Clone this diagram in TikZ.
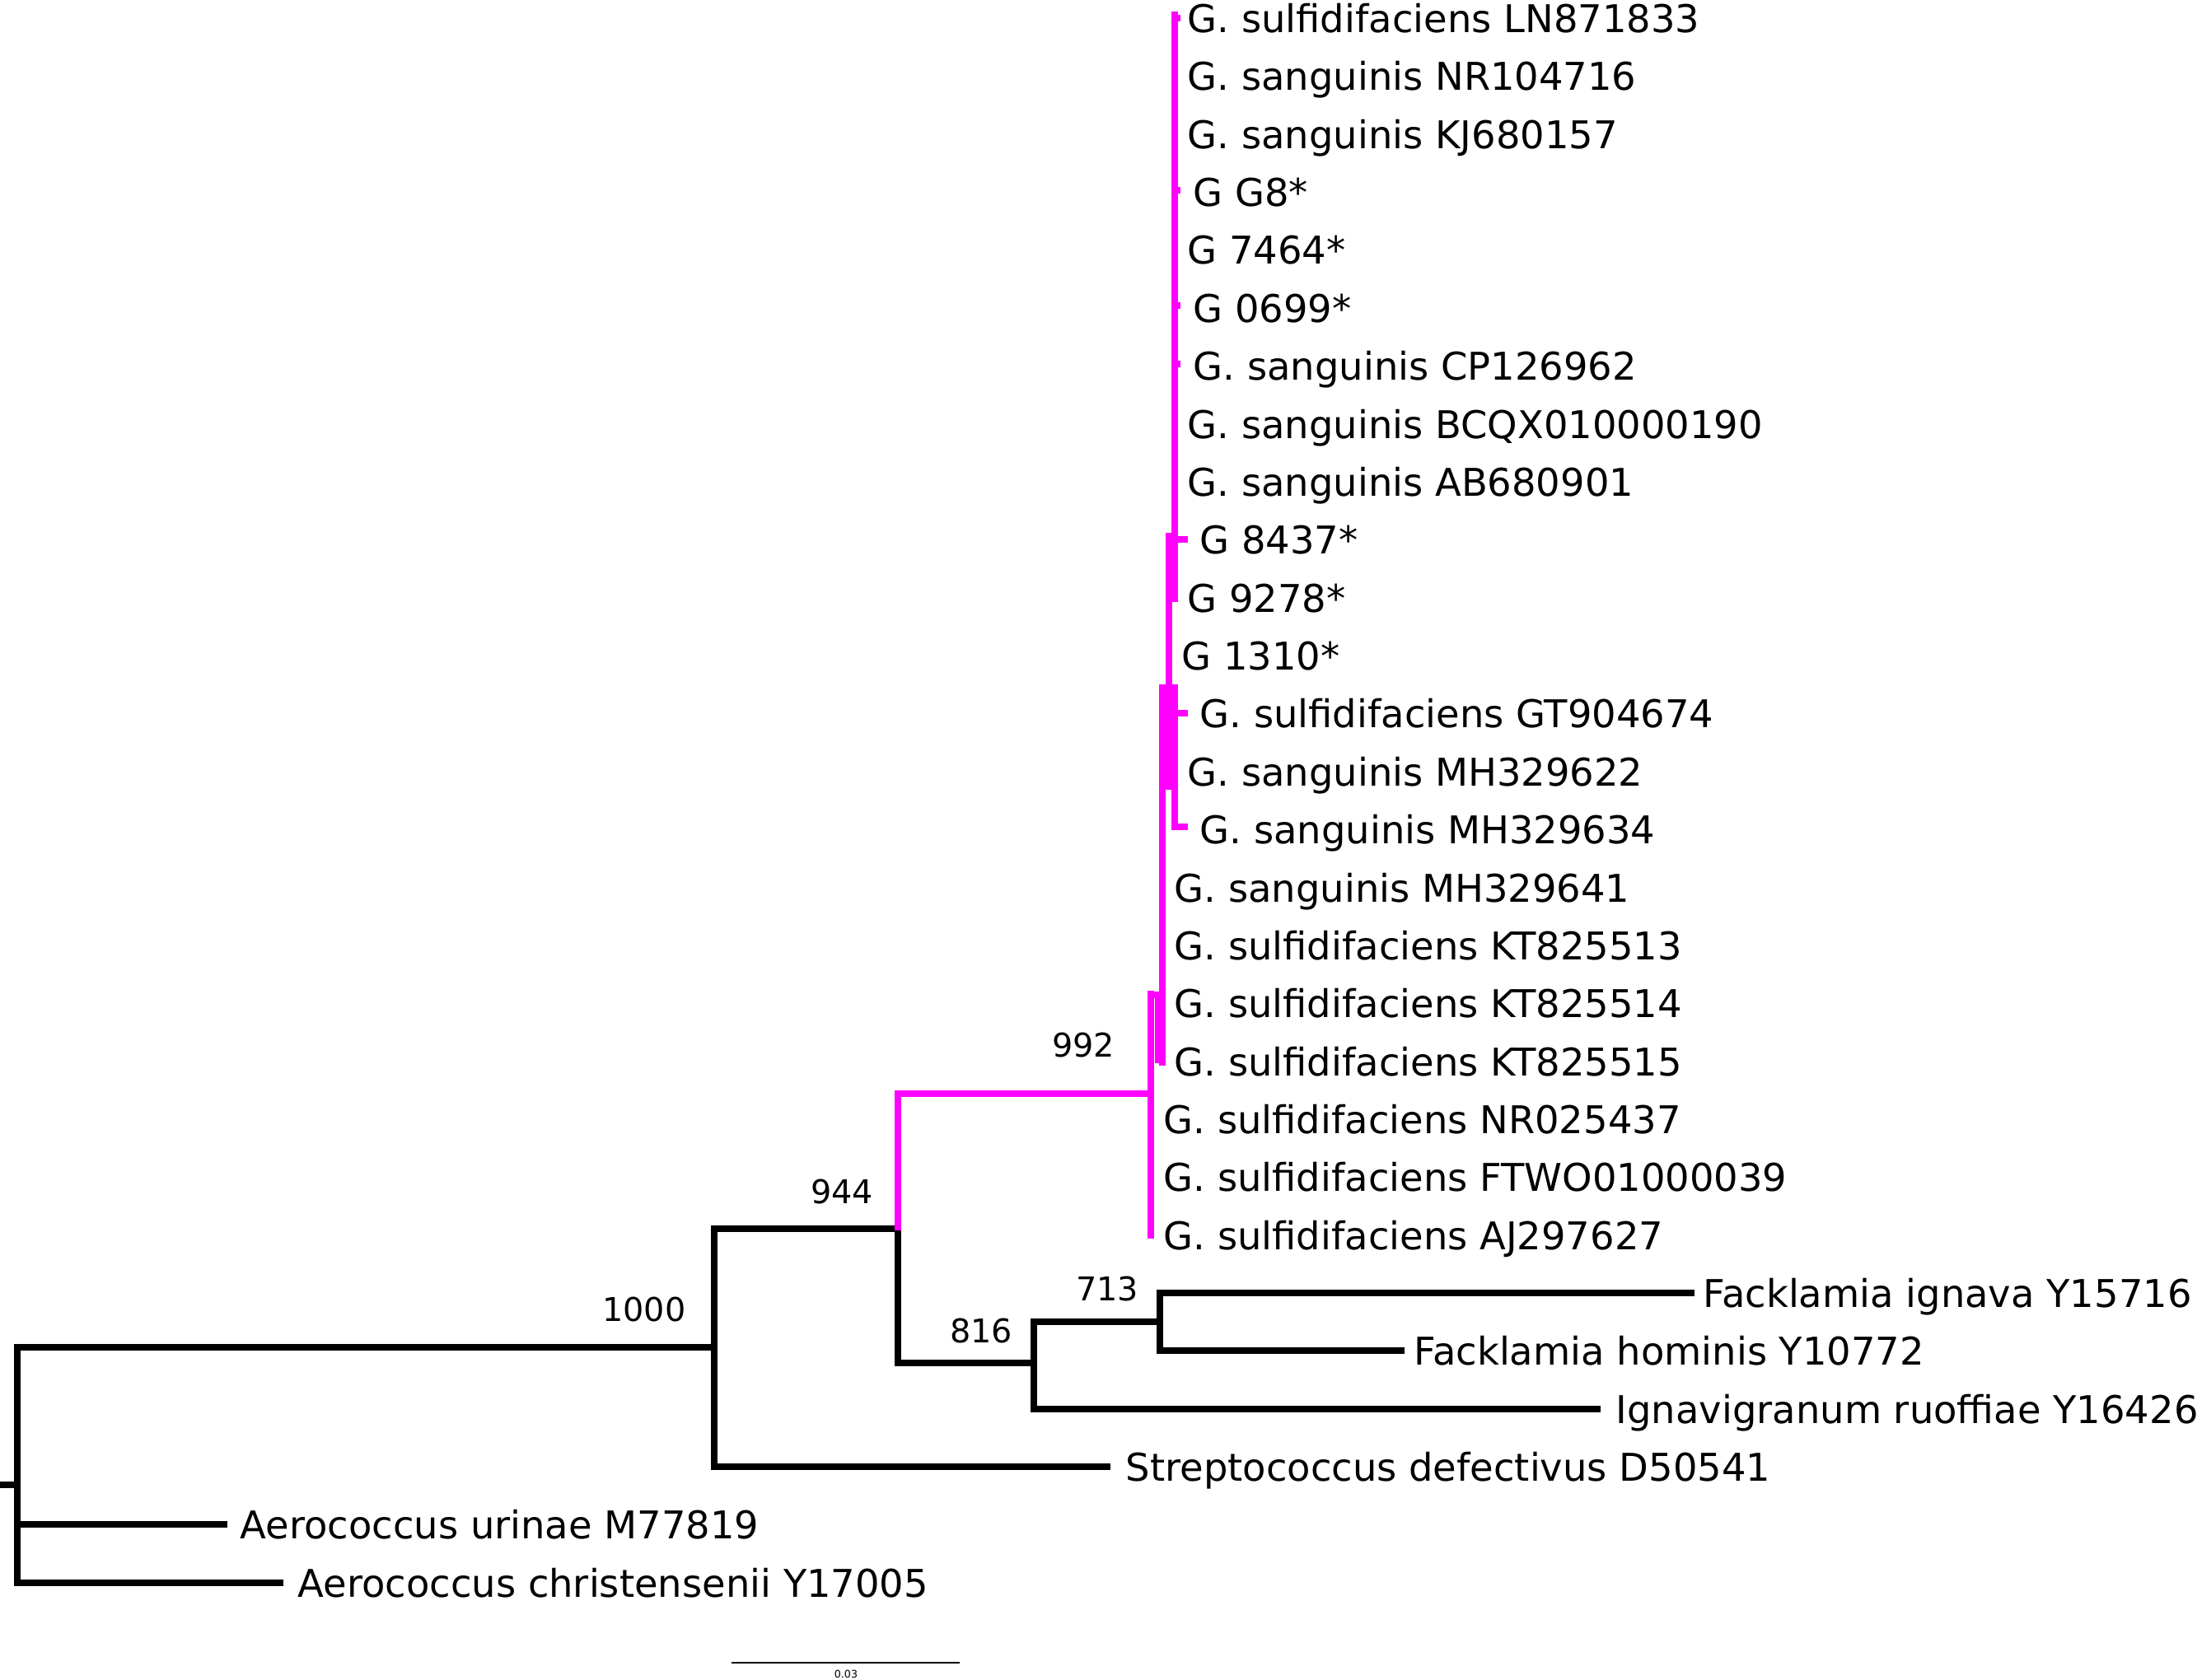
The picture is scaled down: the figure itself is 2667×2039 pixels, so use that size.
\documentclass[tikz,border=0pt]{standalone}
\usepackage{fontspec}
\setmainfont{DejaVu Sans}
\definecolor{mag}{RGB}{255,0,255}
\begin{document}
\begin{tikzpicture}[x=0.01cm,y=-0.01cm,
  br/.style={line width=8*0.01cm, line cap=rect},
  mbr/.style={br, draw=mag},
  leaf/.style={anchor=base west, inner sep=0pt, font=\fontsize{13.2pt}{15pt}\selectfont},
  boot/.style={anchor=center, inner sep=0pt, font=\fontsize{11.3pt}{13pt}\selectfont}]
\useasboundingbox (0,0) rectangle (2667,2039);
% ---------- leaf labels (baseline = branch y + 17) ----------
\node[leaf] (l0)  at (1441,  39) {G. sulfidifaciens LN871833};
\node[leaf] (l1)  at (1441, 109) {G. sanguinis NR104716};
\node[leaf] (l2)  at (1441, 180) {G. sanguinis KJ680157};
\node[leaf] (l3)  at (1448, 250) {G G8*};
\node[leaf] (l4)  at (1441, 320) {G 7464*};
\node[leaf] (l5)  at (1448, 391) {G 0699*};
\node[leaf] (l6)  at (1448, 461) {G. sanguinis CP126962};
\node[leaf] (l7)  at (1441, 532) {G. sanguinis BCQX010000190};
\node[leaf] (l8)  at (1441, 602) {G. sanguinis AB680901};
\node[leaf] (l9)  at (1456, 672) {G 8437*};
\node[leaf] (l10) at (1441, 743) {G 9278*};
\node[leaf] (l11) at (1434, 813) {G 1310*};
\node[leaf] (l12) at (1456, 883) {G. sulfidifaciens GT904674};
\node[leaf] (l13) at (1441, 954) {G. sanguinis MH329622};
\node[leaf] (l14) at (1456,1024) {G. sanguinis MH329634};
\node[leaf] (l15) at (1425,1095) {G. sanguinis MH329641};
\node[leaf] (l16) at (1425,1165) {G. sulfidifaciens KT825513};
\node[leaf] (l17) at (1425,1235) {G. sulfidifaciens KT825514};
\node[leaf] (l18) at (1425,1306) {G. sulfidifaciens KT825515};
\node[leaf] (l19) at (1412,1376) {G. sulfidifaciens NR025437};
\node[leaf] (l20) at (1412,1446) {G. sulfidifaciens FTWO01000039};
\node[leaf] (l21) at (1412,1517) {G. sulfidifaciens AJ297627};
\node[leaf] (l22) at (2067,1587) {Facklamia ignava Y15716};
\node[leaf] (l23) at (1716,1657) {Facklamia hominis Y10772};
\node[leaf] (l24) at (1961,1728) {Ignavigranum ruoffiae Y16426};
\node[leaf] (l25) at (1366,1798) {Streptococcus defectivus D50541};
\node[leaf] (l26) at (291,1868) {Aerococcus urinae M77819};
\node[leaf] (l27) at (361,1939) {Aerococcus christensenii Y17005};
% ---------- bootstrap values ----------
\node[boot] (b1000) at (782,1590) {1000};
\node[boot] (b944)  at (1022,1447) {944};
\node[boot] (b992)  at (1315,1269) {992};
\node[boot] (b816)  at (1191,1616) {816};
\node[boot] (b713)  at (1344,1565) {713};
% ---------- internal node coordinates ----------
\coordinate (root) at (21,1803);
\coordinate (n1000) at (867,1636);
\coordinate (n944) at (1090,1492);
\coordinate (n816) at (1255,1655);
\coordinate (n713) at (1408,1605);
\coordinate (n992) at (1397,1328);
% ---------- black branches ----------
\draw[br] (0,1803) -- (root);
\draw[br] (21,1636) -- (21,1922);
\draw[br] (21,1636) -- (n1000);
\draw[br] (21,1851) -- (272,1851);
\draw[br] (21,1922) -- (340,1922);
\draw[br] (867,1492) -- (867,1781);
\draw[br] (867,1781) -- (1344,1781);
\draw[br] (867,1492) -- (n944);
\draw[br] (1090,1492) -- (1090,1655);
\draw[br] (1090,1655) -- (n816);
\draw[br] (1255,1605) -- (1255,1711);
\draw[br] (1255,1711) -- (1939,1711);
\draw[br] (1255,1605) -- (n713);
\draw[br] (1408,1570) -- (1408,1640);
\draw[br] (1408,1570) -- (2053,1570);
\draw[br] (1408,1640) -- (1701,1640);
% ---------- magenta clade ----------
\draw[mbr] (1090,1328) -- (1090,1490);
\draw[mbr] (1090,1328) -- (n992);
\draw[mbr] (1397,1207) -- (1397,1500);
\draw[mbr] (1397,1208) -- (1411,1208);
\draw[mbr, line width=5*0.01cm] (1404,1212) -- (1404,1288);
\draw[mbr] (1411,835) -- (1411,1290);
\draw[mbr] (1419,651) -- (1419,955);
\draw[mbr] (1426,835) -- (1426,1004);
\draw[mbr] (1426,866) -- (1438,866);
\draw[mbr] (1426,1004) -- (1438,1004);
\draw[mbr] (1419,655) -- (1438,655);
\draw[mbr] (1426,18) -- (1426,727);
\draw[mbr] (1426,22) -- (1429,22);
\draw[mbr] (1426,231) -- (1429,231);
\draw[mbr] (1426,371) -- (1429,371);
\draw[mbr] (1426,442) -- (1429,442);
% ---------- scale bar ----------
\draw[line width=2*0.01cm] (888,2019) -- (1165,2019);
\node[inner sep=0pt, font=\fontsize{3.6pt}{4pt}\selectfont] (sc) at (1027,2033) {0.03};
\end{tikzpicture}
\end{document}
